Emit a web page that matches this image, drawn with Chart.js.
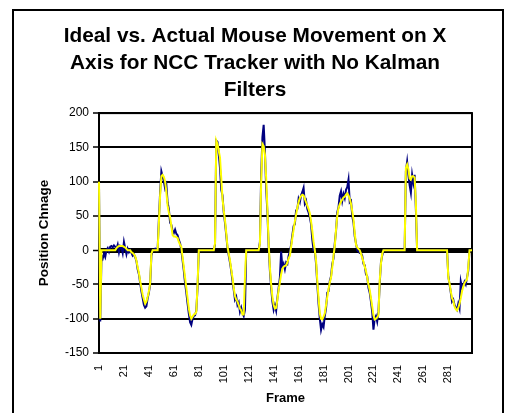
<!DOCTYPE html>
<html>
<head>
<meta charset="utf-8">
<script src="https://cdn.jsdelivr.net/npm/chart.js@4.4.0/dist/chart.umd.min.js"></script>
<style>
  html, body { margin: 0; padding: 0; background: #fff; }
  #wrap { position: relative; width: 513px; height: 413px; overflow: hidden; }
  #frame { position: absolute; left: 12px; top: 9px; width: 492px; height: 420px; border: 2px solid #000; box-sizing: border-box; pointer-events: none; }
  canvas { position: absolute; left: 0; top: 0; }
</style>
</head>
<body>
<div id="wrap">
  <canvas id="grafico" width="513" height="413"></canvas>
  <div id="frame"></div>
</div>
<script>
// Valores (300 quadros)
const tituloLinhas = ['Ideal vs. Actual Mouse Movement on X', 'Axis for NCC Tracker with No Kalman', 'Filters'];
const yTicks = [-150, -100, -50, 0, 50, 100, 150, 200];
const xTickLabels = ['1', '21', '41', '61', '81', '101', '121', '141', '161', '181', '201', '221', '241', '261', '281'];

// Movimento real (azul)
const actual = [
    96, -104, -8, -12, -5, -10, 0, 3, -2, 5,
    6, 4, 7, 5, 2, 8, -3, 6, 4, -4,
    12, 3, -6, 2, -3, 0, -4, -8, -6, -10,
    -16, -28, -35, -48, -60, -70, -80, -84, -82, -70,
    -62, -50, -8, 0, 0, 2, 0, 2, 45, 85,
    115, 108, 100, 90, 95, 70, 60, 40, 37, 28,
    25, 30, 24, 22, 15, 10, 0, -15, -30, -48,
    -62, -78, -92, -105, -109, -100, -96, -95, -88, -55,
    0, 0, 0, 0, 0, 0, 0, 0, 0, 0,
    0, 0, 0, 8, 160, 158, 140, 120, 88, 80,
    55, 40, 22, 3, -8, -18, -30, -45, -58, -72,
    -68, -80, -76, -90, -84, -92, -96, -87, 0, 0,
    0, 0, 0, 0, 0, 0, 0, 0, 0, 12,
    110, 165, 183, 145, 90, 55, 5, -30, -55, -75,
    -87, -80, -88, -70, -55, -40, -2, -25, -20, -28,
    -18, -20, -8, -2, 8, 22, 35, 38, 58, 60,
    75, 70, 80, 85, 91, 68, 72, 60, 55, 48,
    38, 15, 0, 0, -20, -50, -78, -100, -116, -108,
    -112, -96, -85, -62, -60, -45, -38, -20, -12, 10,
    28, 55, 63, 80, 86, 72, 82, 76, 88, 92,
    103, 70, 72, 50, 40, 20, 10, 0, -2, -4,
    -4, -8, -20, -22, -35, -38, -55, -62, -75, -90,
    -116, -100, -96, -104, -90, -50, -18, -8, 0, 0,
    0, 0, 0, 0, 0, 0, 0, 0, 0, 0,
    0, 0, 0, 0, 0, 0, 115, 129, 110, 95,
    84, 110, 98, 110, 60, 0, 0, 0, 0, 0,
    0, 0, 0, 0, 0, 0, 0, 0, 0, 0,
    0, 0, 0, 0, 0, 0, 0, 0, 0, 0,
    -38, -50, -62, -75, -72, -80, -84, -87, -78, -85,
    -46, -55, -52, -46, -50, -40, -30, 0, 0, 0
];

// Movimento ideal (amarelo)
const ideal = [
    100, -100, 0, 0, 0, 0, 0, 0, 0, 0,
    0, 0, 0, 0, 3, 5, 6, 6, 6, 6,
    5, 4, 2, 0, 0, 0, -3, -4, -6, -9,
    -15, -25, -33, -45, -55, -65, -72, -78, -75, -68,
    -60, -48, -5, 0, 0, 0, 0, 0, 40, 80,
    108, 110, 107, 100, 85, 65, 55, 48, 35, 22,
    20, 20, 19, 18, 12, 8, 5, -10, -25, -40,
    -55, -70, -85, -95, -100, -97, -94, -93, -90, -50,
    0, 0, 0, 0, 0, 0, 0, 0, 0, 0,
    0, 0, 0, 10, 160, 155, 145, 135, 105, 75,
    58, 44, 25, 5, -5, -15, -28, -40, -55, -67,
    -72, -75, -80, -85, -88, -94, -94, -40, 0, 0,
    0, 0, 0, 0, 0, 0, 0, 0, 0, 10,
    100, 155, 152, 140, 105, 60, 10, -25, -50, -68,
    -80, -85, -84, -72, -58, -47, -35, -27, -24, -23,
    -22, -18, -12, -8, 5, 18, 30, 42, 52, 62,
    70, 76, 79, 81, 80, 75, 70, 65, 60, 54,
    42, 28, 12, 0, -15, -45, -70, -92, -100, -101,
    -97, -92, -80, -68, -57, -47, -40, -25, -8, 6,
    30, 50, 62, 67, 71, 74, 77, 78, 81, 83,
    80, 75, 68, 57, 45, 25, 8, 4, 2, 0,
    -5, -11, -17, -24, -30, -40, -50, -58, -70, -82,
    -95, -101, -100, -98, -95, -45, -20, -5, 0, 0,
    0, 0, 0, 0, 0, 0, 0, 0, 0, 0,
    0, 0, 0, 0, 0, 0, 120, 125, 118, 105,
    103, 108, 108, 106, 70, 0, 0, 0, 0, 0,
    0, 0, 0, 0, 0, 0, 0, 0, 0, 0,
    0, 0, 0, 0, 0, 0, 0, 0, 0, 0,
    -40, -48, -60, -70, -74, -82, -86, -88, -84, -78,
    -70, -60, -53, -48, -45, -43, -25, 0, 0, 0
];

const frames = ideal.map((_, i) => String(i + 1));

// Moldura preta em volta da área do gráfico
const molduraPlugin = {
    id: 'moldura',
    beforeDatasetsDraw(chart) {
        const { ctx, chartArea: a } = chart;
        ctx.save();
        ctx.strokeStyle = '#000';
        ctx.lineWidth = 2;
        ctx.strokeRect(a.left, a.top, a.right - a.left, a.bottom - a.top);
        ctx.restore();
    }
};

const ctx = document.getElementById('grafico').getContext('2d');
new Chart(ctx, {
    type: 'line',
    data: {
        labels: frames,
        datasets: [{
            label: 'Actual',
            data: actual,
            borderColor: '#000080',
            borderWidth: 2,
            pointRadius: 0,
            tension: 0,
            order: 2
        }, {
            label: 'Ideal',
            data: ideal,
            borderColor: '#FFFF00',
            borderWidth: 2,
            pointRadius: 0,
            tension: 0,
            order: 1
        }]
    },
    options: {
        responsive: false,
        animation: false,
        layout: { padding: { left: 38, right: 41, top: 0, bottom: 0 } },
        plugins: {
            legend: { display: false },
            tooltip: { enabled: false },
            title: {
                display: true,
                text: tituloLinhas,
                color: '#000',
                font: { family: 'Liberation Sans, Arial, sans-serif', size: 20.8, weight: 'bold', lineHeight: 1.3 },
                padding: { top: 23, bottom: 9 }
            }
        },
        scales: {
            x: {
                grid: { display: false, drawTicks: false },
                border: { display: false },
                ticks: {
                    autoSkip: false,
                    minRotation: 90,
                    maxRotation: 90,
                    padding: 12,
                    color: '#000',
                    font: { family: 'Liberation Sans, Arial, sans-serif', size: 11 },
                    callback: (v, i) => xTickLabels.includes(frames[i]) ? frames[i] : ''
                },
                title: {
                    display: true,
                    text: 'Frame',
                    color: '#000',
                    font: { family: 'Liberation Sans, Arial, sans-serif', size: 13, weight: 'bold', lineHeight: 1.2 },
                    padding: { top: 0, bottom: 7 }
                },
                afterFit: (scale) => { scale.height = 60; }
            },
            y: {
                min: -150,
                max: 200,
                afterBuildTicks: (scale) => { scale.ticks = yTicks.map(v => ({ value: v })); },
                grid: {
                    color: '#000',
                    lineWidth: (c) => c.tick && c.tick.value === 0 ? 5 : 2,
                    tickLength: 6,
                    tickWidth: 1.5,
                    tickColor: '#000'
                },
                border: { display: true, color: '#000', width: 2 },
                ticks: {
                    padding: 4,
                    color: '#000',
                    font: { family: 'Liberation Sans, Arial, sans-serif', size: 12 }
                },
                title: {
                    display: true,
                    text: 'Position Chnage',
                    color: '#000',
                    font: { family: 'Liberation Sans, Arial, sans-serif', size: 13.5, weight: 'bold', lineHeight: 1 },
                    padding: 0
                },
                afterFit: (scale) => { scale.width = 61; }
            }
        }
    },
    plugins: [molduraPlugin]
});
</script>
</body>
</html>
